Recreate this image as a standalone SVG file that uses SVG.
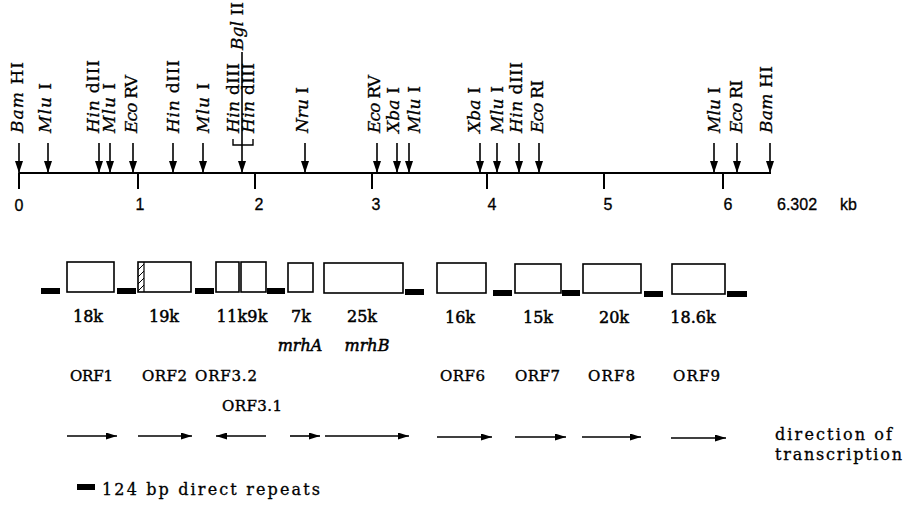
<svg xmlns="http://www.w3.org/2000/svg" width="910" height="505" viewBox="0 0 910 505">
<defs>
<marker id="mapHead" markerUnits="userSpaceOnUse" markerWidth="13" markerHeight="8" refX="12" refY="4" orient="auto" viewBox="0 0 13 8">
<path d="M0,0 L12,4 L0,8 Z" fill="#000"/>
</marker>
<marker id="orfHead" markerUnits="userSpaceOnUse" markerWidth="11" markerHeight="7" refX="11" refY="3.5" orient="auto" viewBox="0 0 11 7">
<path d="M0,0 L11,3.5 L0,7 Z" fill="#000"/>
</marker>
<style>
.lab{font-family:"DejaVu Serif","Liberation Serif",serif;font-size:17px;fill:#000;stroke:#000;stroke-width:0.3}
.it{font-style:italic}
.num{font-family:"Liberation Sans",Arial,sans-serif;font-size:16px;fill:#000;stroke:#000;stroke-width:0.3}
.size{font-family:"DejaVu Serif","Liberation Serif",serif;font-size:16px;fill:#000;text-anchor:middle;stroke:#000;stroke-width:0.5}
.orf{font-family:"DejaVu Serif","Liberation Serif",serif;font-size:15px;fill:#000;stroke:#000;stroke-width:0.4}
.txt{font-family:"DejaVu Serif","Liberation Serif",serif;font-size:16px;fill:#000;stroke:#000;stroke-width:0.3}
.cut{stroke:#000;stroke-width:1.6;fill:none;marker-end:url(#mapHead)}
.ax{stroke:#000;stroke-width:2;fill:none}
.box{fill:#fff;stroke:#000;stroke-width:1.6}
.rep{fill:#000}
.dir{stroke:#000;stroke-width:1.6;fill:none}
</style>
</defs>

<g id="axis">
<line class="ax" x1="19" y1="173" x2="771" y2="173"/>
<line class="ax" x1="19" y1="173" x2="19" y2="189"/>
<line class="ax" x1="138" y1="173" x2="138" y2="189"/>
<line class="ax" x1="255" y1="173" x2="255" y2="189"/>
<line class="ax" x1="372" y1="173" x2="372" y2="189"/>
<line class="ax" x1="487" y1="173" x2="487" y2="189"/>
<line class="ax" x1="604" y1="173" x2="604" y2="189"/>
<line class="ax" x1="723" y1="173" x2="723" y2="189"/>
<text class="num" x="19" y="211" text-anchor="middle">0</text>
<text class="num" x="140" y="210" text-anchor="middle">1</text>
<text class="num" x="259" y="210" text-anchor="middle">2</text>
<text class="num" x="376" y="210" text-anchor="middle">3</text>
<text class="num" x="492" y="210" text-anchor="middle">4</text>
<text class="num" x="608" y="210" text-anchor="middle">5</text>
<text class="num" x="728" y="210" text-anchor="middle">6</text>
<text class="num" x="777" y="210">6.302 <tspan x="840">kb</tspan></text>
</g>

<g id="connectors">
<line class="cut" x1="19" y1="143" x2="19" y2="173"/>
<line class="cut" x1="48" y1="143" x2="48" y2="173"/>
<line class="cut" x1="99" y1="143" x2="99" y2="173"/>
<line class="cut" x1="110" y1="143" x2="110" y2="173"/>
<line class="cut" x1="133" y1="143" x2="133" y2="173"/>
<line class="cut" x1="173" y1="143" x2="173" y2="173"/>
<line class="cut" x1="203" y1="143" x2="203" y2="173"/>
<line class="cut" x1="242" y1="52" x2="242" y2="173"/>
<path d="M233,139 V145 H253 V139" fill="none" stroke="#000" stroke-width="1.4"/>
<line class="cut" x1="305" y1="143" x2="305" y2="173"/>
<line class="cut" x1="377" y1="143" x2="377" y2="173"/>
<line class="cut" x1="397" y1="143" x2="397" y2="173"/>
<line class="cut" x1="409" y1="143" x2="409" y2="173"/>
<line class="cut" x1="480" y1="143" x2="480" y2="173"/>
<line class="cut" x1="497" y1="143" x2="497" y2="173"/>
<line class="cut" x1="519" y1="143" x2="519" y2="173"/>
<line class="cut" x1="539" y1="143" x2="539" y2="173"/>
<line class="cut" x1="714" y1="143" x2="714" y2="173"/>
<line class="cut" x1="737" y1="143" x2="737" y2="173"/>
<line class="cut" x1="770" y1="143" x2="770" y2="173"/>
</g>

<g id="sites">
<text class="lab" transform="translate(23,133) rotate(-90)" textLength="71"><tspan class="it">Bam</tspan> HI</text>
<text class="lab" transform="translate(51,133) rotate(-90)" textLength="50"><tspan class="it">Mlu</tspan> I</text>
<text class="lab" transform="translate(99,133) rotate(-90)" textLength="73"><tspan class="it">Hin</tspan> dIII</text>
<text class="lab" transform="translate(115,133) rotate(-90)" textLength="50"><tspan class="it">Mlu</tspan> I</text>
<text class="lab" transform="translate(137,133) rotate(-90)" textLength="58"><tspan class="it">Eco</tspan> RV</text>
<text class="lab" transform="translate(179,133) rotate(-90)" textLength="73"><tspan class="it">Hin</tspan> dIII</text>
<text class="lab" transform="translate(209,133) rotate(-90)" textLength="50"><tspan class="it">Mlu</tspan> I</text>
<text class="lab" transform="translate(239,133) rotate(-90)" textLength="70"><tspan class="it">Hin</tspan> dIII</text>
<text class="lab" transform="translate(254,133) rotate(-90)" textLength="70"><tspan class="it">Hin</tspan> dIII</text>
<text class="lab" transform="translate(243,50) rotate(-90)" textLength="48"><tspan class="it">Bgl</tspan> II</text>
<text class="lab" transform="translate(308,133) rotate(-90)" textLength="46"><tspan class="it">Nru</tspan> I</text>
<text class="lab" transform="translate(380,133) rotate(-90)" textLength="58"><tspan class="it">Eco</tspan> RV</text>
<text class="lab" transform="translate(399,133) rotate(-90)" textLength="46"><tspan class="it">Xba</tspan> I</text>
<text class="lab" transform="translate(420,133) rotate(-90)" textLength="47"><tspan class="it">Mlu</tspan> I</text>
<text class="lab" transform="translate(480,133) rotate(-90)" textLength="46"><tspan class="it">Xba</tspan> I</text>
<text class="lab" transform="translate(503,133) rotate(-90)" textLength="47"><tspan class="it">Mlu</tspan> I</text>
<text class="lab" transform="translate(522,133) rotate(-90)" textLength="71"><tspan class="it">Hin</tspan> dIII</text>
<text class="lab" transform="translate(543,133) rotate(-90)" textLength="53"><tspan class="it">Eco</tspan> RI</text>
<text class="lab" transform="translate(720,133) rotate(-90)" textLength="46"><tspan class="it">Mlu</tspan> I</text>
<text class="lab" transform="translate(742,133) rotate(-90)" textLength="53"><tspan class="it">Eco</tspan> RI</text>
<text class="lab" transform="translate(772,133) rotate(-90)" textLength="67"><tspan class="it">Bam</tspan> HI</text>
</g>

<g id="repeats">
<rect class="rep" x="41" y="288" width="19" height="6"/>
<rect class="rep" x="117" y="288" width="19" height="6"/>
<rect class="rep" x="195" y="288" width="19" height="6"/>
<rect class="rep" x="267" y="288" width="18" height="6"/>
<rect class="rep" x="405" y="289" width="19" height="6"/>
<rect class="rep" x="493" y="290" width="19" height="6"/>
<rect class="rep" x="562" y="290" width="18" height="6"/>
<rect class="rep" x="644" y="291" width="19" height="6"/>
<rect class="rep" x="727" y="291" width="20" height="6"/>
</g>

<g id="orf1"><rect class="box" x="67" y="262" width="47" height="30"/><text class="size" x="88" y="322">18k</text><text class="orf" x="70" y="381" textLength="43">ORF1</text></g>
<g id="orf2"><rect class="box" x="138" y="262" width="53" height="30"/>
<line x1="144" y1="262" x2="144" y2="292" stroke="#000" stroke-width="1.2"/>
<path d="M138,270 L144,264 M138,277 L144,271 M138,284 L144,278 M138,291 L144,285" stroke="#000" stroke-width="1"/>
<text class="size" x="164" y="322">19k</text><text class="orf" x="142" y="381" textLength="45">ORF2</text></g>
<g id="orf3"><rect class="box" x="216" y="262" width="23" height="30"/><rect class="box" x="241" y="262" width="25" height="30"/>
<text class="size" x="242" y="322" textLength="51">11k9k</text>
<text class="orf" x="195" y="381" textLength="62">ORF3.2</text><text class="orf" x="222" y="411" textLength="60">ORF3.1</text></g>
<g id="mrhA"><rect class="box" x="288" y="263" width="25" height="29"/><text class="size" x="301" y="322">7k</text><text class="size it" x="300" y="351">mrhA</text></g>
<g id="mrhB"><rect class="box" x="324" y="263" width="79" height="30"/><text class="size" x="362" y="322">25k</text><text class="size it" x="367" y="351">mrhB</text></g>
<g id="orf6"><rect class="box" x="437" y="263" width="49" height="30"/><text class="size" x="460" y="323">16k</text><text class="orf" x="440" y="381" textLength="45">ORF6</text></g>
<g id="orf7"><rect class="box" x="515" y="264" width="46" height="29"/><text class="size" x="538" y="323">15k</text><text class="orf" x="515" y="381" textLength="45">ORF7</text></g>
<g id="orf8"><rect class="box" x="583" y="264" width="58" height="29"/><text class="size" x="614" y="323">20k</text><text class="orf" x="588" y="381" textLength="47">ORF8</text></g>
<g id="orf9"><rect class="box" x="672" y="264" width="53" height="30"/><text class="size" x="693" y="323">18.6k</text><text class="orf" x="673" y="381" textLength="47">ORF9</text></g>

<g id="directions">
<line class="dir" x1="67" y1="436" x2="117" y2="436" marker-end="url(#orfHead)"/>
<line class="dir" x1="138" y1="436" x2="192" y2="436" marker-end="url(#orfHead)"/>
<line class="dir" x1="266" y1="436" x2="216" y2="436" marker-end="url(#orfHead)"/>
<line class="dir" x1="290" y1="436" x2="320" y2="436" marker-end="url(#orfHead)"/>
<line class="dir" x1="325" y1="436" x2="409" y2="436" marker-end="url(#orfHead)"/>
<line class="dir" x1="437" y1="437" x2="492" y2="437" marker-end="url(#orfHead)"/>
<line class="dir" x1="515" y1="437" x2="566" y2="437" marker-end="url(#orfHead)"/>
<line class="dir" x1="582" y1="437" x2="641" y2="437" marker-end="url(#orfHead)"/>
<line class="dir" x1="671" y1="438" x2="726" y2="438" marker-end="url(#orfHead)"/>
<text class="txt" x="775" y="440" textLength="117">direction of</text>
<text class="txt" x="775" y="460" textLength="127">transcription</text>
</g>

<g id="legend">
<rect class="rep" x="77" y="484" width="18" height="6"/>
<text class="txt" x="102" y="495" textLength="218">124 bp direct repeats</text>
</g>
</svg>
